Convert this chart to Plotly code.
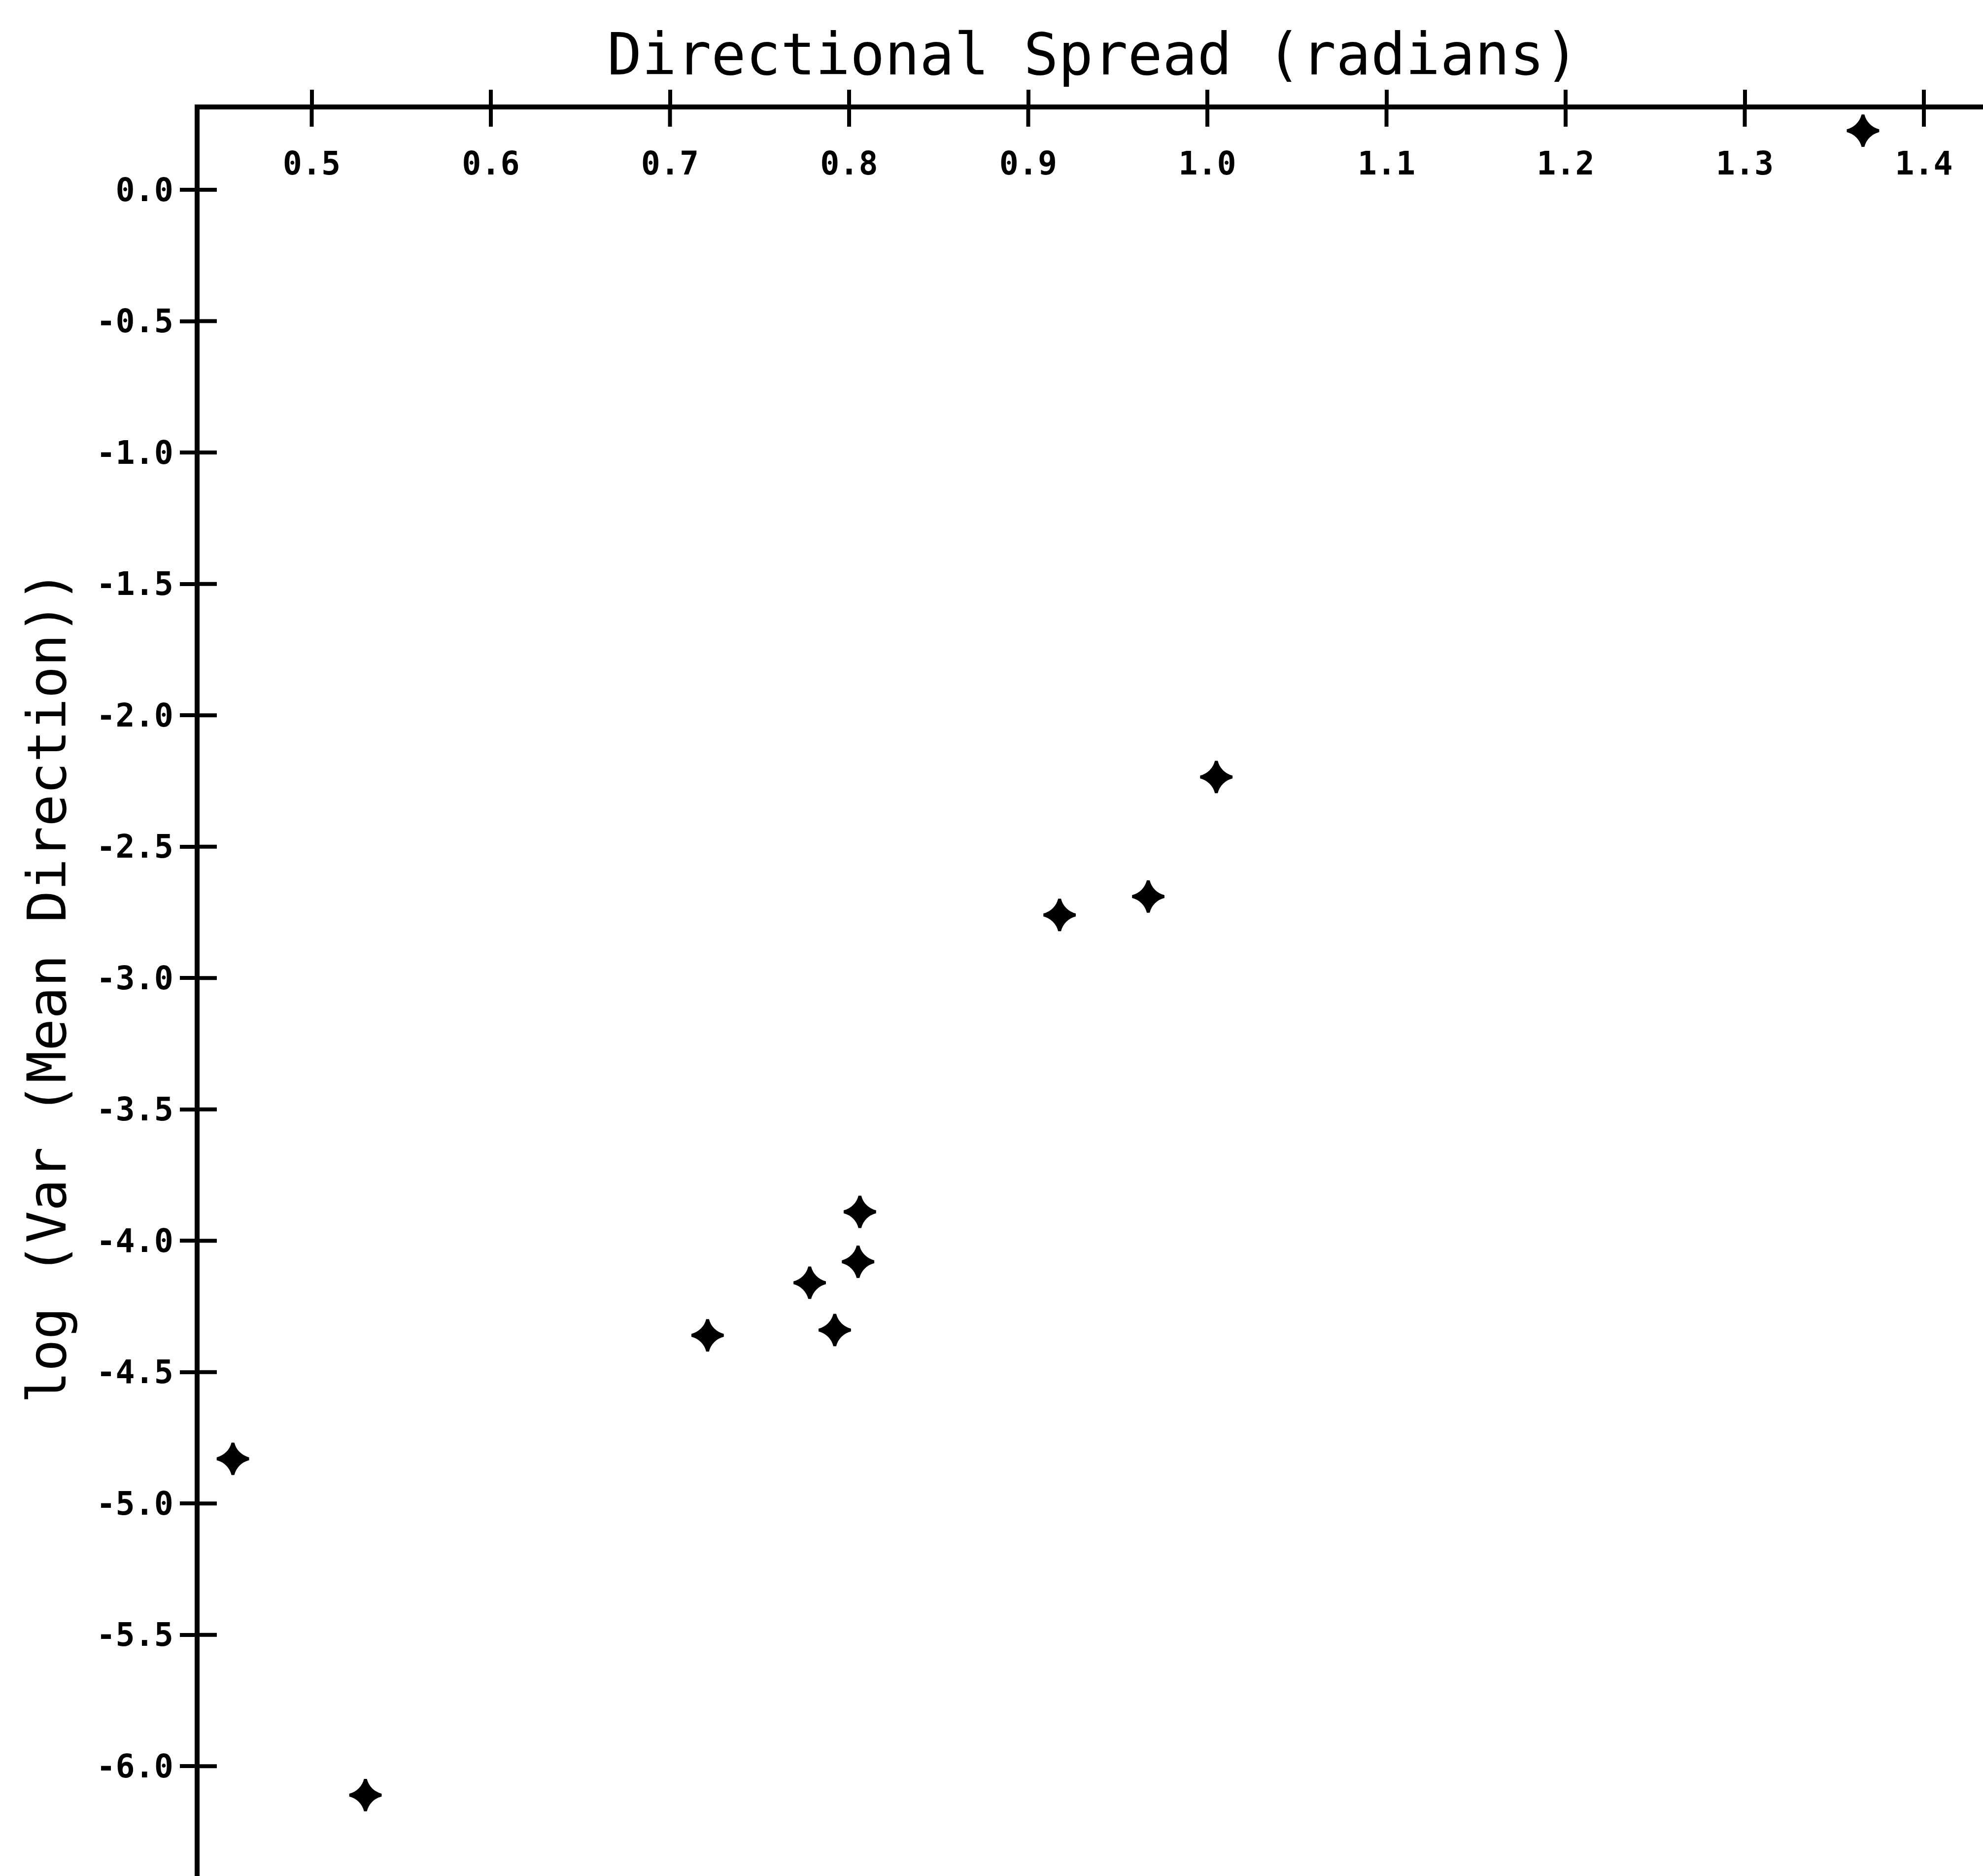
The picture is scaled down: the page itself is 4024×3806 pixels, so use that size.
import plotly.graph_objects as go

# Directional spread (radians) against log variance of the mean direction
spread = [0.456, 0.530, 0.721, 0.778, 0.792, 0.805, 0.806, 0.9175, 0.967, 1.005, 1.366, 1.435]
log_var = [-4.83, -6.11, -4.36, -4.16, -4.34, -4.08, -3.89, -2.76, -2.69, -2.235, 0.225, -1.83]

x_tick_vals = [0.5, 0.6, 0.7, 0.8, 0.9, 1.0, 1.1, 1.2, 1.3, 1.4]
x_tick_text = ["0.5", "0.6", "0.7", "0.8", "0.9", "1.0", "1.1", "1.2", "1.3", "1.4"]
y_tick_vals = [0.0, -0.5, -1.0, -1.5, -2.0, -2.5, -3.0, -3.5, -4.0, -4.5, -5.0, -5.5, -6.0]
y_tick_text = ["0.0", "-0.5", "-1.0", "-1.5", "-2.0", "-2.5", "-3.0",
               "-3.5", "-4.0", "-4.5", "-5.0", "-5.5", "-6.0"]

x_title = "Directional Spread (radians)"
y_title = "log (Var (Mean Direction))"

X_RANGE = [0.4374, 1.433]
Y_RANGE = [-6.418, 0.306]

W, H = 4024, 3806
ML, MT = 405, 222
PLOT_W, PLOT_H = W - ML, H - MT

MONO = "DejaVu Sans Mono"
tick_font = dict(family=MONO, size=65, color="black", weight="bold")
x_title_font = dict(family=MONO, size=117, color="black")
y_title_font = dict(family=MONO, size=108, color="black")

TICK_LEN, TICK_W, AXIS_W = 30, 8, 10

fig = go.Figure()

fig.add_trace(go.Scatter(
    x=spread, y=log_var, mode="markers",
    marker=dict(symbol="star-diamond", size=46, color="black",
                line=dict(color="black", width=6)),
    cliponaxis=False, showlegend=False, hoverinfo="skip",
))

common = dict(showline=True, linewidth=AXIS_W, linecolor="black", mirror=False,
              ticks="outside", ticklen=TICK_LEN, tickwidth=TICK_W,
              tickcolor="black", showgrid=False, zeroline=False,
              fixedrange=True, tickfont=tick_font)

# the ticks cross the axis lines: the inner half of each one is a short
# segment whose length is converted from pixels to axis units
inner_px = TICK_LEN + AXIS_W // 2
dx = inner_px * (X_RANGE[1] - X_RANGE[0]) / PLOT_W
dy = inner_px * (Y_RANGE[1] - Y_RANGE[0]) / PLOT_H
inner = dict(type="line", layer="above", line=dict(color="black", width=TICK_W))
tick_shapes = [
    dict(xref="x", yref="y", x0=v, x1=v, y0=Y_RANGE[1], y1=Y_RANGE[1] - dy, **inner)
    for v in x_tick_vals
] + [
    dict(xref="x", yref="y", y0=v, y1=v, x0=X_RANGE[0], x1=X_RANGE[0] + dx, **inner)
    for v in y_tick_vals
]

fig.update_layout(
    width=W, height=H,
    margin=dict(l=ML, r=0, t=MT, b=0, pad=0),
    paper_bgcolor="white", plot_bgcolor="white",
    xaxis=dict(side="top", range=X_RANGE, tickmode="array",
               tickvals=x_tick_vals, ticktext=x_tick_text,
               ticklabelposition="inside", ticklabelstandoff=96, **common),
    yaxis=dict(range=Y_RANGE, tickmode="array", tickvals=y_tick_vals,
               ticktext=y_tick_text, ticklabelstandoff=0, **common),
    shapes=tick_shapes,
    annotations=[
        dict(text=x_title, xref="paper", yref="paper", x=0.501, y=1.0,
             xanchor="center", yanchor="middle", yshift=112,
             showarrow=False, font=x_title_font),
        dict(text=y_title, xref="paper", yref="paper", x=0.0, y=0.5033,
             xanchor="center", yanchor="middle", xshift=95 - ML,
             textangle=-90, showarrow=False, font=y_title_font),
    ],
)

fig.write_html("out.html")
